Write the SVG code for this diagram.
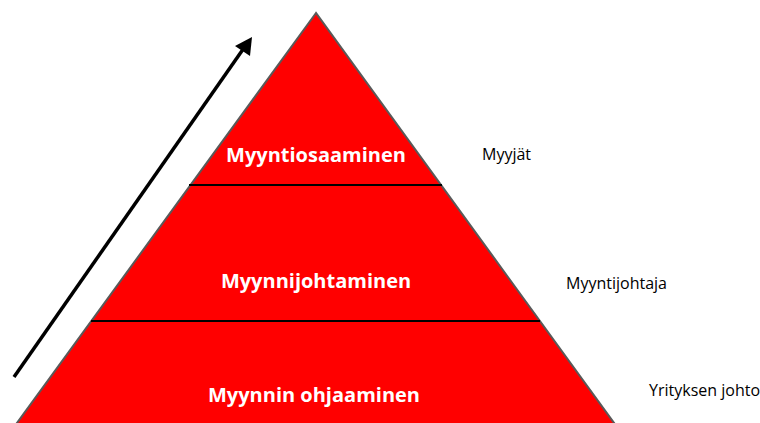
<svg xmlns="http://www.w3.org/2000/svg" width="760" height="423" viewBox="0 0 760 423">
<defs>
<style>
.lvl{font-family:"Open Sans","Liberation Sans",sans-serif;font-weight:bold;font-size:20px;fill:#fff;text-anchor:middle}
.side{font-family:"Open Sans","Liberation Sans",sans-serif;font-size:16px;fill:#000}
.div{stroke:#000;stroke-width:2}
</style>
</defs>
<rect width="760" height="423" fill="#fff"/>
<g id="pyramid">
<polygon points="316,13 14,427 617,427" fill="#ff0000" stroke="#595959" stroke-width="2"/>
</g>
<g id="connectors">
<line class="div" x1="189" y1="185" x2="442" y2="185"/>
<line class="div" x1="91" y1="321" x2="540" y2="321"/>
<line x1="14" y1="377" x2="246" y2="45" stroke="#000" stroke-width="3.5"/>
<polygon points="252,37 250,56 235,46" fill="#000"/>
</g>
<g id="level1"><text class="lvl" x="316" y="162">Myyntiosaaminen</text></g>
<g id="level2"><text class="lvl" x="316" y="288">Myynnijohtaminen</text></g>
<g id="level3"><text class="lvl" x="314" y="402">Myynnin ohjaaminen</text></g>
<g id="label1"><text class="side" x="482" y="160">Myyjät</text></g>
<g id="label2"><text class="side" x="566" y="289">Myyntijohtaja</text></g>
<g id="label3"><text class="side" x="649" y="396">Yrityksen johto</text></g>
</svg>
